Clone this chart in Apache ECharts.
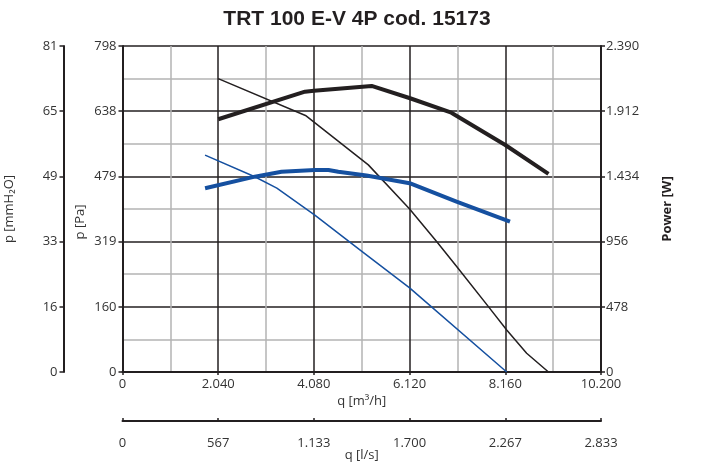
<!DOCTYPE html>
<html>
<head>
<meta charset="utf-8">
<script src="https://cdn.jsdelivr.net/npm/echarts@6/dist/echarts.min.js"></script>
<style>html,body{margin:0;padding:0;background:#fff;}#c{width:702px;height:463px;}</style>
</head>
<body>
<div id="c"></div>
<script>
// Tick labels
const flowM3hTicks = ['0', '2.040', '4.080', '6.120', '8.160', '10.200'];
const flowLsTicks = ['0', '567', '1.133', '1.700', '2.267', '2.833'];
const pressPaTicks = ['0', '160', '319', '479', '638', '798'];
const pressMmTicks = ['0', '16', '33', '49', '65', '81'];
const powerTicks = ['0', '478', '956', '1.434', '1.912', '2.390'];

// Curves: [q m3/h, value]
const pressureBlack = [[2040, 718], [3900, 628], [5240, 507], [6120, 399], [6700, 319], [7140, 256], [7800, 160], [8190, 103], [8615, 46], [9080, 0]];
const pressureBlue = [[1760, 531], [2820, 478], [3290, 450], [4100, 384], [5060, 299], [6120, 206], [8190, 0]];
const powerBlack = [[2040, 1853], [3890, 2055], [4080, 2062], [5310, 2097], [6130, 2007], [7010, 1901], [8160, 1664], [9080, 1452]];
const powerBlue = [[1760, 1347], [2820, 1432], [3390, 1468], [4100, 1481], [4390, 1481], [4600, 1468], [5200, 1440], [6120, 1384], [7120, 1249], [8260, 1102]];

const DARK = '#231f20';
const GRAY = '#b4b4b4';
const BLUE = '#1550a0';
const FONT = 'Open Sans';
const FS = 13;

function fmt(arr, step) {
  return function (v) { const i = Math.round(v / step); return arr[i] !== undefined ? arr[i] : ''; };
}

const chart = echarts.init(document.getElementById('c'), null, { renderer: 'canvas' });
chart.setOption({
  animation: false,
  backgroundColor: '#fff',
  title: {
    text: 'TRT 100 E-V 4P cod. 15173',
    left: 352, top: 4, textAlign: 'center',
    textStyle: { fontFamily: 'Liberation Sans', fontWeight: 'bold', fontSize: 21, color: DARK }
  },
  grid: { left: 122.5, right: 101, top: 46, bottom: 91, containLabel: false, outerBoundsMode: 'none' },
  xAxis: [
    {
      type: 'value', min: 0, max: 10200, interval: 2040, position: 'bottom',
      name: 'q [m³/h]', nameLocation: 'middle', nameGap: 23, nameMoveOverlap: false,
      nameTextStyle: { fontFamily: FONT, fontSize: FS, color: '#333' },
      axisLine: { show: true, onZero: false, lineStyle: { color: DARK, width: 2 } },
      axisTick: { show: true, length: 3, lineStyle: { color: DARK, width: 1.5 } },
      axisLabel: { formatter: fmt(flowM3hTicks, 2040), margin: 6, fontFamily: FONT, fontSize: FS, color: '#333' },
      splitLine: { show: true, lineStyle: { color: DARK, width: 1.5 } },
      minorTick: { show: false, splitNumber: 2 },
      minorSplitLine: { show: true, lineStyle: { color: GRAY, width: 1.5 } }
    },
    {
      type: 'value', min: 0, max: 2833, interval: 566.6, position: 'bottom', offset: 49,
      gridIndex: 0,
      name: 'q [l/s]', nameLocation: 'middle', nameGap: 28, nameMoveOverlap: false,
      nameTextStyle: { fontFamily: FONT, fontSize: FS, color: '#333' },
      axisLine: { show: true, onZero: false, lineStyle: { color: DARK, width: 2 } },
      axisTick: { show: true, inside: true, length: 3, lineStyle: { color: DARK, width: 1.5 } },
      axisLabel: { formatter: fmt(flowLsTicks, 566.6), margin: 16, fontFamily: FONT, fontSize: FS, color: '#333' },
      splitLine: { show: false }
    }
  ],
  yAxis: [
    {
      type: 'value', min: 0, max: 798, interval: 159.6, position: 'left',
      name: 'p [Pa]', nameLocation: 'middle', nameGap: 36, nameRotate: 90, nameMoveOverlap: false,
      nameTextStyle: { fontFamily: FONT, fontSize: FS, color: '#333', padding: [0, 26, 0, 0] },
      axisLine: { show: true, onZero: false, lineStyle: { color: DARK, width: 2 } },
      axisTick: { show: true, length: 4, lineStyle: { color: DARK, width: 1.5 } },
      axisLabel: { formatter: fmt(pressPaTicks, 159.6), margin: 6, fontFamily: FONT, fontSize: FS, color: '#333' },
      splitLine: { show: true, lineStyle: { color: DARK, width: 1.5 } },
      minorTick: { show: false, splitNumber: 2 },
      minorSplitLine: { show: true, lineStyle: { color: GRAY, width: 1.5 } }
    },
    {
      type: 'value', min: 0, max: 81.4, interval: 16.28, position: 'left', offset: 59,
      name: 'p [mmH₂O]', nameLocation: 'middle', nameGap: 48, nameRotate: 90, nameMoveOverlap: false,
      nameTextStyle: { fontFamily: FONT, fontSize: FS, color: '#333' },
      axisLine: { show: true, onZero: false, lineStyle: { color: DARK, width: 2 } },
      axisTick: { show: true, length: 4, lineStyle: { color: DARK, width: 1.5 } },
      axisLabel: { formatter: fmt(pressMmTicks, 16.28), margin: 6, fontFamily: FONT, fontSize: FS, color: '#333' },
      splitLine: { show: false }
    },
    {
      type: 'value', min: 0, max: 2390, interval: 478, position: 'right',
      name: 'Power [W]', nameLocation: 'middle', nameGap: 60, nameRotate: 90, nameMoveOverlap: false,
      nameTextStyle: { fontFamily: FONT, fontSize: FS, fontWeight: 'bold', color: DARK },
      axisLine: { show: true, onZero: false, lineStyle: { color: DARK, width: 2 } },
      axisTick: { show: true, length: 4, lineStyle: { color: DARK, width: 1.5 } },
      axisLabel: { formatter: fmt(powerTicks, 478), margin: 5, fontFamily: FONT, fontSize: FS, color: '#333' },
      splitLine: { show: false }
    }
  ],
  series: [
    { type: 'line', name: 'p1', data: pressureBlack, xAxisIndex: 0, yAxisIndex: 0, symbol: 'none', lineStyle: { color: DARK, width: 1.5 }, z: 3 },
    { type: 'line', name: 'p2', data: pressureBlue, xAxisIndex: 0, yAxisIndex: 0, symbol: 'none', lineStyle: { color: BLUE, width: 1.5 }, z: 3 },
    { type: 'line', name: 'w1', data: powerBlack, xAxisIndex: 0, yAxisIndex: 2, symbol: 'none', lineStyle: { color: DARK, width: 4 }, z: 4 },
    { type: 'line', name: 'w2', data: powerBlue, xAxisIndex: 0, yAxisIndex: 2, symbol: 'none', lineStyle: { color: BLUE, width: 4 }, z: 4 }
  ]
});
</script>
</body>
</html>
